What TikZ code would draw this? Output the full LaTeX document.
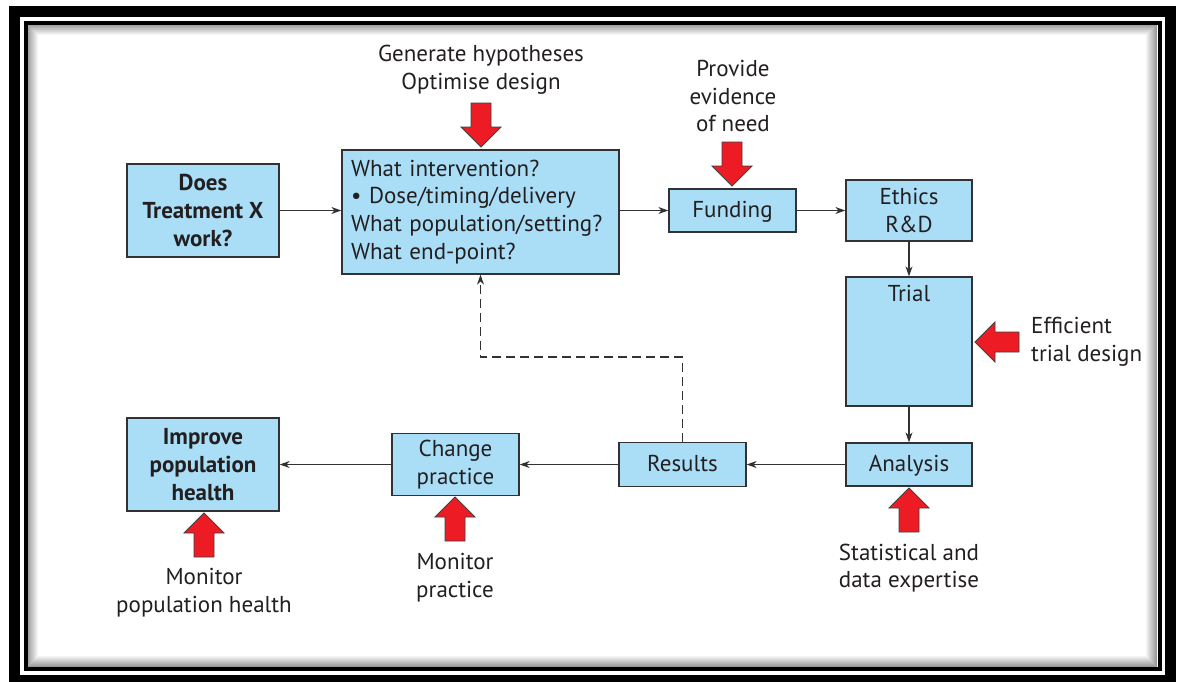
\documentclass[tikz,border=0pt]{standalone}
\usepackage{fontspec}
\setmainfont{PT Sans}
\usetikzlibrary{arrows.meta}
\definecolor{boxblue}{RGB}{170,222,247}
\definecolor{linegray}{RGB}{50,50,52}
\definecolor{textgray}{RGB}{35,31,32}
\definecolor{arrowred}{RGB}{237,28,36}
\newcommand\myfs{\fontsize{23}{27.8}\selectfont}
\begin{document}
\begin{tikzpicture}[x=1pt,y=-1pt,
  box/.style={draw=linegray, line width=1.3pt, fill=boxblue, inner sep=0pt, align=center, font=\myfs, text=textgray},
  lbl/.style={inner sep=0pt, align=center, font=\myfs, text=textgray},
  conn/.style={draw=linegray, line width=1.2pt, -{Stealth[length=10pt,width=7pt]}},
  dconn/.style={conn, dash pattern=on 9pt off 5pt},
  barrow/.pic={\draw[fill=arrowred, draw=black!75, line width=0.8pt]
     (0,0) -- (-20,-20) -- (-20,-10) -- (-44,-10) -- (-44,10) -- (-20,10) -- (-20,20) -- cycle;}
]
\useasboundingbox (0,0) rectangle (1180,681);
\fill[white] (0,0) rectangle (1180,681);
% frame
\draw[black, line width=11pt] (14.5,11.5) rectangle (1170.5,680);
\foreach \i in {0,...,11}{
  \pgfmathsetmacro\g{max(0,40-\i*3.6)}
  \draw[black!\g, line width=1pt] (27.5+\i,24.5+\i) rectangle (1156.5-\i,666.5-\i);
}
\draw[black, line width=4pt] (25.5,22.5) rectangle (1159.5,669);

% boxes
\node[box, minimum width=152pt, minimum height=93pt, font=\myfs\bfseries] (does) at (203,210.5) {Does\\Treatment X\\work?};
\node[box, minimum width=277pt, minimum height=124pt, text width=259pt, align=left] (what) at (480.5,212) {What intervention?\\• Dose/timing/delivery\\What population/setting?\\What end-point?};
\node[box, minimum width=127pt, minimum height=43pt, text depth=3pt] (fund) at (732.5,210.5) {Funding};
\node[box, minimum width=126pt, minimum height=61pt] (eth) at (909,210.5) {Ethics\\R\&D};
\node[box, minimum width=126pt, minimum height=129pt, label={[lbl, anchor=north, yshift=-9pt]north:Trial}] (trial) at (909,341.5) {};
\node[box, minimum width=126pt, minimum height=43pt, text depth=3pt] (ana) at (909,464.5) {Analysis};
\node[box, minimum width=127pt, minimum height=44pt, text depth=3pt] (res) at (682.5,464.5) {Results};
\node[box, minimum width=127pt, minimum height=62pt] (chg) at (455.5,464.5) {Change\\practice};
\node[box, minimum width=152pt, minimum height=93pt, font=\myfs\bfseries] (imp) at (203,464.5) {Improve\\population\\health};

% connectors
\draw[conn] (does.east) -- (does.east -| what.west);
\draw[conn] (what.east |- fund.west) -- (fund.west);
\draw[conn] (fund) -- (eth);
\draw[conn] (eth) -- (trial);
\draw[conn] (trial) -- (ana);
\draw[conn] (ana) -- (res);
\draw[conn] (res) -- (chg);
\draw[conn] (chg) -- (imp);
\coordinate (fb) at (682.5,357);
\draw[dconn] (res.north) -- (fb) -| (what.south);

% red block arrows
\pic[rotate=-90] at (481,147) {barrow};
\pic[rotate=-90] at (732,186) {barrow};
\pic[rotate=180] at (975,342) {barrow};
\pic[rotate=90] at (909,488) {barrow};
\pic[rotate=90] at (455,497) {barrow};
\pic[rotate=90] at (204,513) {barrow};

% labels
\node[lbl] (l1) at (481,70) {Generate hypotheses\\Optimise design};
\node[lbl] (l2) at (733,96) {Provide\\evidence\\of need};
\node[lbl, align=left, anchor=west] (l3) at (1031,342) {Efficient\\trial design};
\node[lbl] (l4) at (909,568) {Statistical and\\data expertise};
\node[lbl] (l5) at (455,578) {Monitor\\practice};
\node[lbl] (l6) at (204,593) {Monitor\\population health};
\end{tikzpicture}
\end{document}
